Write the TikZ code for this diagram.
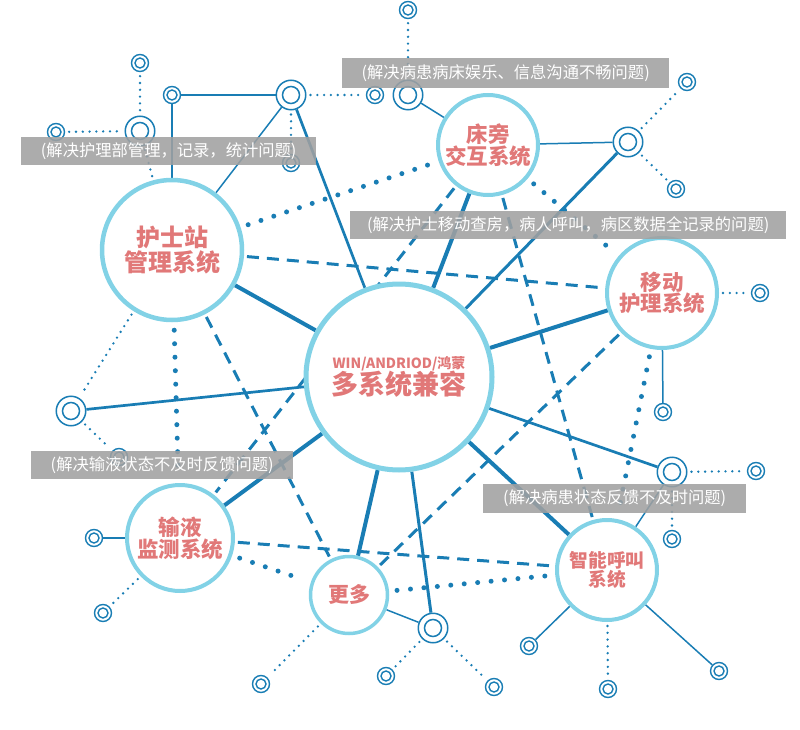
\documentclass[tikz,border=0pt]{standalone}
\usepackage{fontspec}
\setmainfont{Noto Sans CJK SC}
\pgfdeclarelayer{bg}
\pgfdeclarelayer{fg}
\pgfsetlayers{bg,main,fg}
\definecolor{lb}{RGB}{130,210,230}
\definecolor{db}{RGB}{25,125,180}
\definecolor{tr}{RGB}{225,120,120}
\definecolor{lg}{RGB}{160,160,160}
\begin{document}
\begin{tikzpicture}[x=1pt,y=-1pt,
  bigc/.style={circle,draw=lb,fill=white,text=tr,font=\bfseries,align=center,inner sep=0pt},
  sring/.style={circle,draw=db,line width=1.4pt,fill=white,minimum size=17pt,inner sep=0pt,
    path picture={\draw[db,line width=1.4pt] (path picture bounding box.center) circle (5pt);}},
  bring/.style={circle,draw=db,line width=1.5pt,fill=white,minimum size=29.5pt,inner sep=0pt,
    path picture={\draw[db,line width=1.5pt] (path picture bounding box.center) circle (8.5pt);}},
  lthin/.style={db,line width=1.5pt},
  lmed/.style={db,line width=2.7pt},
  lthk/.style={db,line width=4pt},
  sdot/.style={db,line width=2.6pt,line cap=round,dash pattern=on 0pt off 6.8pt,shorten <=4pt,shorten >=4pt},
  bdot/.style={db,line width=5pt,line cap=round,dash pattern=on 0pt off 13.5pt,shorten <=8pt,shorten >=8pt},
  dsh/.style={db,line width=3pt,dash pattern=on 12pt off 8pt,shorten <=3pt,shorten >=3pt},
  lbl/.style={anchor=north west,fill=lg,fill opacity=0.88,text opacity=1,text=white,
    font=\fontsize{16.3}{18}\selectfont,inner sep=0pt}
]
\useasboundingbox (0,0) rectangle (800,730);

% big circles
\node[bigc,line width=5pt,minimum size=186pt] (C) at (399,377)
  {\fontsize{14}{16}\selectfont WIN/ANDRIOD/鸿蒙\\[-1pt]\fontsize{27}{30}\selectfont 多系统兼容};
\node[bigc,line width=4.5pt,minimum size=140pt] (N) at (172,250)
  {\fontsize{24}{32}\selectfont 护士站\\\fontsize{24}{32}\selectfont 管理系统};
\node[bigc,line width=4pt,minimum size=100pt] (B) at (488,145)
  {\fontsize{21.5}{27}\selectfont 床旁\\\fontsize{21.5}{27}\selectfont 交互系统};
\node[bigc,line width=4pt,minimum size=110pt] (M) at (662,293)
  {\fontsize{21.5}{26}\selectfont 移动\\\fontsize{21.5}{26}\selectfont 护理系统};
\node[bigc,line width=4pt,minimum size=106pt] (I) at (180,538)
  {\fontsize{21.5}{26}\selectfont 输液\\\fontsize{21.5}{26}\selectfont 监测系统};
\node[bigc,line width=3.5pt,minimum size=77pt] (G) at (349,595)
  {\fontsize{21}{24}\selectfont 更多};
\node[bigc,line width=4pt,minimum size=100pt] (Z) at (607,570)
  {\fontsize{18.7}{23}\selectfont 智能呼叫\\\fontsize{18.7}{23}\selectfont 系统};

% rings
\node[sring] (r1) at (140,63) {};
\node[bring] (R2) at (140,131) {};
\node[sring] (r3) at (56,132) {};
\node[sring] (r4) at (172,95) {};
\node[bring] (R5) at (291,95) {};
\node[sring] (r6) at (375,95) {};
\node[sring] (r7) at (291,163) {};
\node[sring] (r8) at (408,10) {};
\node[bring] (R9) at (408,95) {};
\node[bring] (R10) at (628,142) {};
\node[sring] (r11) at (687,82) {};
\node[sring] (r12) at (676,189) {};
\node[sring] (r13) at (760,293) {};
\node[sring] (r14) at (663,412) {};
\node[bring] (R15) at (672,472) {};
\node[sring] (r16) at (756,471) {};
\node[sring] (r17) at (672,539) {};
\node[sring] (r18) at (529,646) {};
\node[sring] (r19) at (608,689) {};
\node[sring] (r20) at (719,671) {};
\node[bring] (R21) at (433,628) {};
\node[sring] (r22) at (386,676) {};
\node[sring] (r23) at (494,687) {};
\node[sring] (r24) at (261,684) {};
\node[sring] (r25) at (103,613) {};
\node[sring] (r26) at (94,538) {};
\node[bring] (R27) at (71,411) {};
\node[sring] (r28) at (119,457) {};

\begin{pgfonlayer}{bg}
  % thin solid
  \draw[lthin] (r4) -- (R5);
  \draw[lthin] (r4) -- (N);
  \draw[lthin] (R5) -- (N);
  \draw[lthin] (R9) -- (B);
  \draw[lthin] (B) -- (R10);
  \draw[lthin] (R15) -- (Z);
  \draw[lthin] (M) -- (r14);
  \draw[lthin] (Z) -- (r18);
  \draw[lthin] (Z) -- (r20);
  \draw[lthin] (I) -- (r26);
  \draw[lthin] (G) -- (R21);
  % medium solid
  \draw[lmed] (C) -- (R5);
  \draw[lmed] (C) -- (R27);
  \draw[lmed] (C) -- (R15);
  \draw[lmed,line width=3pt] (C) -- (R10);
  \draw[lmed,line width=3pt] (C) -- (R21);
  % thick solid
  \draw[lthk] (C) -- (N);
  \draw[lthk] (C) -- (B);
  \draw[lthk] (C) -- (M);
  \draw[lthk] (C) -- (I);
  \draw[lthk] (C) -- (G);
  \draw[lthk] (C) -- (Z);
  % small dotted
  \draw[sdot] (r1) -- (R2);
  \draw[sdot] (r3) -- (R2);
  \draw[sdot] (R2) -- (N);
  \draw[sdot] (R5) -- (r6);
  \draw[sdot] (R5) -- (r7);
  \draw[sdot] (r8) -- (R9);
  \draw[sdot] (R10) -- (r11);
  \draw[sdot] (R10) -- (r12);
  \draw[sdot] (M) -- (r13);
  \draw[sdot] (R15) -- (r16);
  \draw[sdot] (R15) -- (r17);
  \draw[sdot] (Z) -- (r19);
  \draw[sdot] (R21) -- (r22);
  \draw[sdot] (R21) -- (r23);
  \draw[sdot] (G) -- (r24);
  \draw[sdot] (I) -- (r25);
  \draw[sdot] (N) -- (R27);
  \draw[sdot] (R27) -- (r28);
  % big dotted
  \draw[bdot] (N) -- (B);
  \draw[bdot] (B) -- (M);
  \draw[bdot] (M) -- (Z);
  \draw[bdot] (N) -- (I);
  \draw[bdot] (I) -- (G);
  \draw[bdot] (G) -- (Z);
  % dashed
  \draw[dsh] (N) -- (M);
  \draw[dsh] (B) -- (I);
  \draw[dsh] (B) -- (Z);
  \draw[dsh] (M) -- (G);
  \draw[dsh] (N) -- (G);
  \draw[dsh] (I) -- (Z);
\end{pgfonlayer}

\begin{pgfonlayer}{fg}
  \node[lbl,minimum width=295pt,minimum height=28pt] (L1) at (21,137) {(解决护理部管理，记录，统计问题)};
  \node[lbl,minimum width=327pt,minimum height=30pt] (L2) at (342,58) {(解决病患病床娱乐、信息沟通不畅问题)};
  \node[lbl,minimum width=436pt,minimum height=28pt] (L3) at (350,211) {(解决护士移动查房，病人呼叫，病区数据全记录的问题)};
  \node[lbl,minimum width=262pt,minimum height=28pt] (L4) at (31,451) {(解决输液状态不及时反馈问题)};
  \node[lbl,minimum width=263pt,minimum height=29pt] (L5) at (483,484) {(解决病患状态反馈不及时问题)};
\end{pgfonlayer}
\end{tikzpicture}
\end{document}
